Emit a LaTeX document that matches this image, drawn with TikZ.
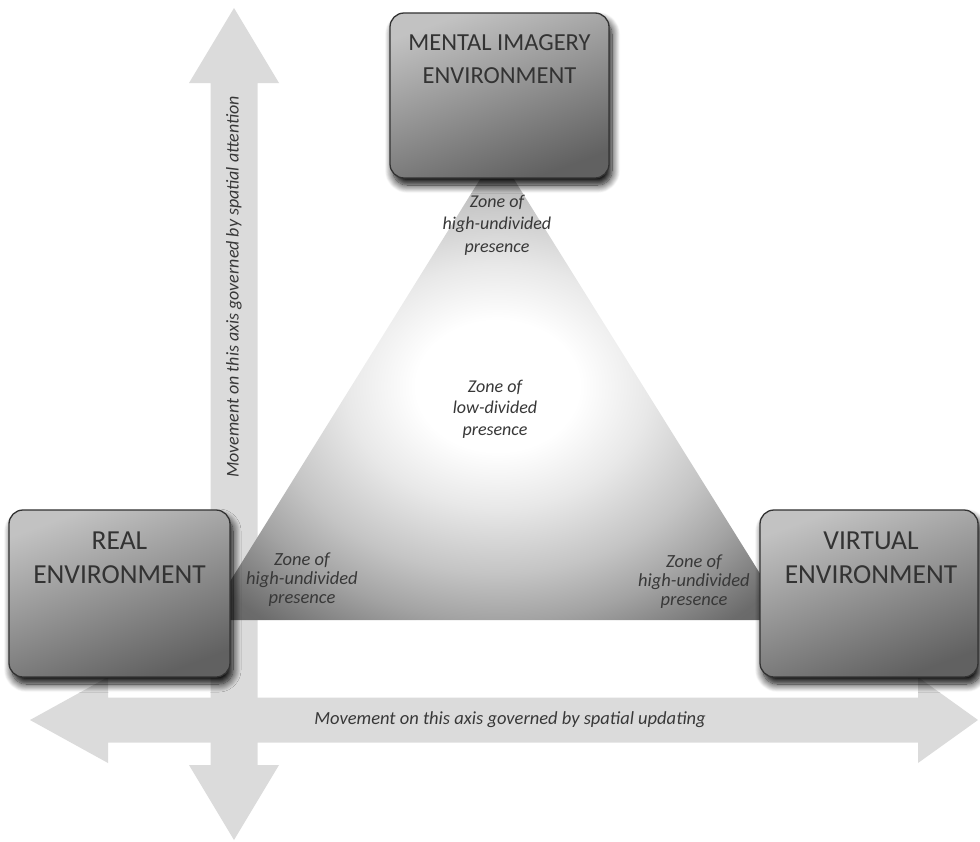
\documentclass[tikz,border=0pt]{standalone}
\usepackage{fontspec}
\setmainfont{Carlito}
\usetikzlibrary{shadows.blur}

% light core fading to grey towards the rim of the presence triangle
\pgfdeclareradialshading{presenceglow}{\pgfpoint{0bp}{0bp}}{%
  color(0bp)=(white); color(7bp)=(white); color(13bp)=(black!9);
  color(20bp)=(black!23); color(25bp)=(black!36); color(32bp)=(black!58);
  color(50bp)=(black!70)}

\begin{document}
\begin{tikzpicture}[x=1pt,y=-1pt,
  axisarrow/.style={fill=black!14, draw=none},
  envbox/.style={draw=black!80, line width=1.3pt, rounded corners=14pt,
    top color=black!24, bottom color=black!62, shading angle=20,
    blur shadow={shadow xshift=3pt, shadow yshift=-7pt,
      shadow blur radius=8pt, shadow blur steps=12, shadow opacity=100}},
  envtext/.style={text=black!80, align=center, inner sep=0pt, anchor=north},
  zonetext/.style={text=black!78, align=center, inner sep=0pt,
    font=\itshape\fontsize{18.5}{19}\selectfont},
  axistext/.style={text=black!78, inner sep=0pt}]

\useasboundingbox (0,0) rectangle (980,841);

% --- the two double-headed axes -------------------------------------
\coordinate (vtop)   at (234,8);
\coordinate (vbot)   at (234,840);
\coordinate (hleft)  at (30,720);
\coordinate (hright) at (978,720);

\fill[axisarrow] (vtop) -- (279,83) -- (257.5,83) -- (257.5,765) -- (279,765)
  -- (vbot) -- (189,765) -- (210.5,765) -- (210.5,83) -- (189,83) -- cycle;
\fill[axisarrow] (hleft) -- (108,677) -- (108,697.5) -- (918,697.5) -- (918,677)
  -- (hright) -- (918,763) -- (918,742.5) -- (108,742.5) -- (108,763) -- cycle;

\node[axistext, rotate=90, font=\itshape\fontsize{18}{20}\selectfont] (attn)
  at (234,287) {Movement on this axis governed by spatial attention};
\node[axistext, font=\itshape\fontsize{18.5}{20}\selectfont] (upd)
  at (510,720) {Movement on this axis governed by spatial updating};

% --- presence triangle ---------------------------------------------
\coordinate (apex) at (497,152);
\coordinate (tl)   at (206,620);
\coordinate (tr)   at (789,620);
\shade[shading=presenceglow] (apex) -- (tr) -- (tl) -- cycle;

\node[zonetext, font=\itshape\fontsize{18}{22.5}\selectfont] (ztop) at (497,225)
  {Zone of\\high-undivided\\presence};
\node[zonetext, font=\itshape\fontsize{18}{21.5}\selectfont] (zmid) at (495,409)
  {Zone of\\low-divided\\presence};
\node[zonetext] (zleft) at (302,580) {Zone of\\high-undivided\\presence};
\node[zonetext] (zright) at (694,582) {Zone of\\high-undivided\\presence};

% --- the three environments ----------------------------------------
\node[envbox, minimum width=219pt, minimum height=165pt] (mental) at (499.5,95.5) {};
\node[envbox, minimum width=221pt, minimum height=167pt] (real) at (119.5,593.5) {};
\node[envbox, minimum width=218pt, minimum height=167pt] (virtual) at (869,593.5) {};

\node[envtext, font=\fontsize{24.5}{33}\selectfont] (mentallbl)
  at ([yshift=-22pt]mental.north) {MENTAL IMAGERY\\ENVIRONMENT};
\node[envtext, font=\fontsize{27.5}{34}\selectfont] (reallbl)
  at ([yshift=-22pt]real.north) {REAL\\ENVIRONMENT};
\node[envtext, font=\fontsize{27.5}{34}\selectfont] (virtuallbl)
  at ([xshift=2pt,yshift=-22pt]virtual.north) {VIRTUAL\\ENVIRONMENT};

\end{tikzpicture}
\end{document}
